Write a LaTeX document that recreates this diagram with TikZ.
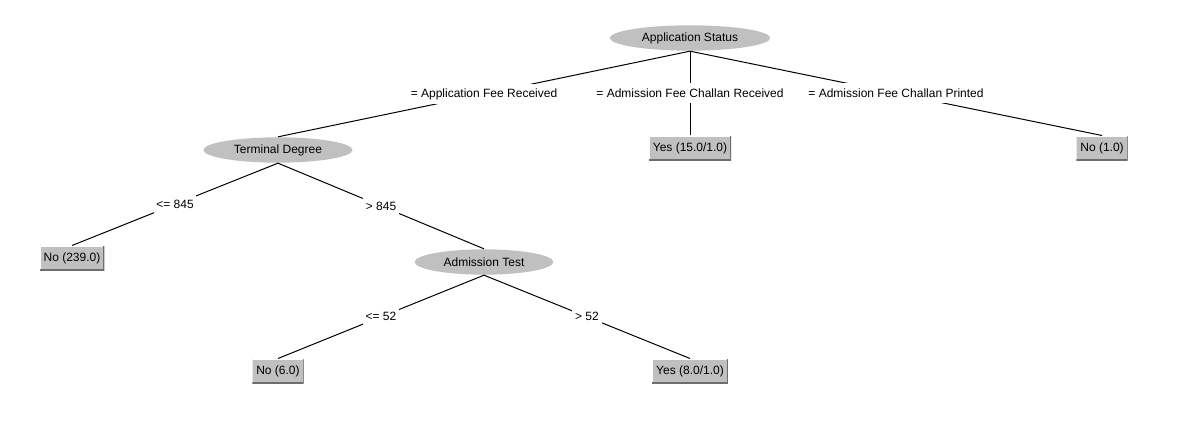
\documentclass[tikz,border=0pt]{standalone}
\usepackage{fontspec}
\setmainfont{Liberation Sans}
\usetikzlibrary{shapes.geometric}
\definecolor{nodegray}{RGB}{192,192,192}
\definecolor{edgedark}{RGB}{110,110,110}
\tikzset{attrnode/.style={ellipse, fill=nodegray, minimum height=19pt, inner xsep=6.5pt, inner ysep=1pt, font=\fontsize{9pt}{10pt}\selectfont}}
\tikzset{leafbox/.style={rectangle, fill=nodegray, minimum height=18pt, inner xsep=3pt, font=\fontsize{9pt}{10pt}\selectfont,
    path picture={
      \draw[white, line width=1.5pt] (path picture bounding box.south west) -- (path picture bounding box.north west) -- (path picture bounding box.north east);
      \draw[edgedark, line width=1.5pt] (path picture bounding box.north east) -- (path picture bounding box.south east) -- (path picture bounding box.south west);}}}
\tikzset{branchlabel/.style={fill=white, inner xsep=2pt, minimum height=15pt, font=\fontsize{9pt}{10pt}\selectfont}}

\begin{document}
\begin{tikzpicture}[x=0.75pt, y=-0.75pt, line width=0.75pt]
    \useasboundingbox[fill=white] (0,0) rectangle (1180,442);
    % splitting attributes
    \node[attrnode] (status) at (690,38) {Application Status};
    \node[attrnode] (degree) at (278,150) {Terminal Degree};
    \node[attrnode] (test) at (484,262) {Admission Test};
    % leaves
    \node[leafbox] (yeschallan) at (690,148) {Yes (15.0/1.0)};
    \node[leafbox] (noprinted) at (1102,148) {No (1.0)};
    \node[leafbox] (nolow) at (72,258) {No (239.0)};
    \node[leafbox] (notest) at (278,371) {No (6.0)};
    \node[leafbox] (yestest) at (690,371) {Yes (8.0/1.0)};
    % branches
    \draw (status.south) -- (degree.north) node[branchlabel, midway] {= Application Fee Received};
    \draw (status.south) -- (yeschallan.north) node[branchlabel, midway] {= Admission Fee Challan Received};
    \draw (status.south) -- (noprinted.north) node[branchlabel, midway] {= Admission Fee Challan Printed};
    \draw (degree.south) -- (nolow.north) node[branchlabel, midway] {<= 845};
    \draw (degree.south) -- (test.north) node[branchlabel, midway] {> 845};
    \draw (test.south) -- (notest.north) node[branchlabel, midway] {<= 52};
    \draw (test.south) -- (yestest.north) node[branchlabel, midway] {> 52};
\end{tikzpicture}
\end{document}
